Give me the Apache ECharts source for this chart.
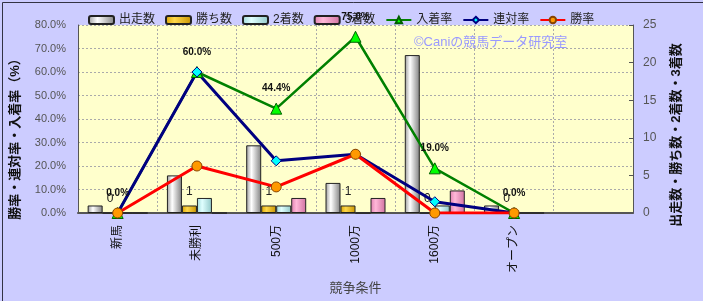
<!DOCTYPE html>
<html><head><meta charset="utf-8">
<script src="https://cdn.jsdelivr.net/npm/echarts@6/dist/echarts.min.js"></script>
<style>html,body{margin:0;padding:0;background:#ccccff;}#c{width:703px;height:301px;}</style>
</head><body><div id="c"></div>
<script>
const categories = ['新馬','未勝利','500万','1000万','1600万','オープン',''];
const runners = [1,5,9,4,21,1];
const wins = [0,1,1,1,0,0];
const seconds = [0,2,1,0,1,0];
const thirds = [0,0,2,2,3,0];
const placeRate = [0.0,60.0,44.4,75.0,19.0,0.0];
const rentaiRate = [0.0,60.0,22.2,25.0,4.8,0.0];
const winRate = [0.0,20.0,11.1,25.0,0.0,0.0];
const leftTicks = [0,10,20,30,40,50,60,70,80];
const rightTicks = [0,5,10,15,20,25];

const FF = 'Liberation Sans, Noto Sans CJK JP, sans-serif';
function grad(edge1, mid, edge2){
  return {type:'linear',x:0,y:0,x2:1,y2:0,colorStops:[
    {offset:0,color:edge1},{offset:0.35,color:mid},{offset:1,color:edge2}]};
}
const chart = echarts.init(document.getElementById('c'), null, {renderer:'canvas'});
const barCommon = {type:'bar', yAxisIndex:1, barWidth:15, barGap:'0%'};
chart.setOption({
  backgroundColor:'#ccccff',
  animation:false,
  textStyle:{fontFamily:FF},
  legend:{
    left:83, top:9, itemWidth:25, itemHeight:8, itemGap:10,
    textStyle:{fontSize:12, color:'#222', fontFamily:FF},
    data:['出走数','勝ち数','2着数','3着数','入着率','連対率','勝率']
  },
  grid:{left:78, right:70, top:25, bottom:88, show:true, backgroundColor:'#ffffcc', borderWidth:0},
  xAxis:{
    type:'category', data:categories, boundaryGap:true,
    name:'競争条件', nameLocation:'middle', nameGap:69,
    nameTextStyle:{fontSize:13, color:'#444'},
    axisLine:{lineStyle:{color:'#555', width:2}},
    axisTick:{show:false},
    axisLabel:{interval:0, rotate:90, margin:12, fontSize:12, color:'#111'},
    splitLine:{show:true, lineStyle:{color:'#aaa', type:[2,2]}}
  },
  yAxis:[
    {type:'value', min:leftTicks[0], max:leftTicks[leftTicks.length-1], interval:10,
     axisLine:{show:true, lineStyle:{color:'#555'}}, axisTick:{show:false},
     axisLabel:{margin:12, fontSize:11, color:'#555', formatter:v=>v.toFixed(1)+'%'},
     splitLine:{show:true, lineStyle:{color:'#aaa', type:[2,2]}}},
    {type:'value', min:rightTicks[0], max:rightTicks[rightTicks.length-1], interval:5,
     axisLine:{show:true, lineStyle:{color:'#555'}},
     axisTick:{show:true, inside:true, length:4, lineStyle:{color:'#555'}},
     axisLabel:{margin:10, fontSize:12, color:'#555'},
     splitLine:{show:false}}
  ],
  series:[
    Object.assign({}, barCommon, {name:'出走数', data:runners,
      itemStyle:{color:grad('#9a9a9a','#ffffff','#808080'), borderColor:'#222', borderWidth:1}}),
    Object.assign({}, barCommon, {name:'勝ち数', data:wins,
      itemStyle:{color:grad('#d9a400','#ffd84a','#c89400'), borderColor:'#222', borderWidth:1},
      label:{show:true, position:'top', distance:8, fontSize:12, color:'#222'}}),
    Object.assign({}, barCommon, {name:'2着数', data:seconds,
      itemStyle:{color:grad('#a0d8d8','#e0ffff','#90c8c8'), borderColor:'#222', borderWidth:1}}),
    Object.assign({}, barCommon, {name:'3着数', data:thirds,
      itemStyle:{color:grad('#e080b0','#ffb8d8','#d070a0'), borderColor:'#222', borderWidth:1}}),
    {name:'入着率', type:'line', data:placeRate, yAxisIndex:0, symbol:'triangle', symbolSize:11,
     lineStyle:{color:'#008000', width:2.5}, itemStyle:{color:'#00ff00', borderColor:'#006000', borderWidth:1},
     label:{show:true, position:'top', distance:9, fontSize:10, fontWeight:'bold', color:'#111',
       formatter:p=>p.value.toFixed(1)+'%'}},
    {name:'連対率', type:'line', data:rentaiRate, yAxisIndex:0, symbol:'diamond', symbolSize:10,
     lineStyle:{color:'#000080', width:3}, itemStyle:{color:'#00ffff', borderColor:'#000080', borderWidth:1}},
    {name:'勝率', type:'line', data:winRate, yAxisIndex:0, symbol:'circle', symbolSize:10,
     lineStyle:{color:'#ff0000', width:3}, itemStyle:{color:'#ff9900', borderColor:'#884400', borderWidth:1}}
  ],
  graphic:[
    {type:'rect', left:0, top:0, z:100, silent:true, shape:{x:0.5,y:0.5,width:702,height:300},
     style:{fill:'none', stroke:'#333344', lineWidth:1}},
    {type:'text', left:414, top:36, z:50, style:{text:'©Caniの競馬データ研究室', fontSize:13, fill:'#9999ff', fontFamily:FF}},
    {type:'text', x:15, y:136, rotation:Math.PI/2, z:50,
     style:{text:'勝率・連対率・入着率（%）', fontSize:13, fontWeight:'bold', fill:'#111', align:'center', verticalAlign:'middle', fontFamily:FF}},
    {type:'text', x:676, y:135, rotation:Math.PI/2, z:50,
     style:{text:'出走数・勝ち数・2着数・3着数', fontSize:13, fontWeight:'bold', fill:'#111', align:'center', verticalAlign:'middle', fontFamily:FF}}
  ]
});
</script></body></html>
